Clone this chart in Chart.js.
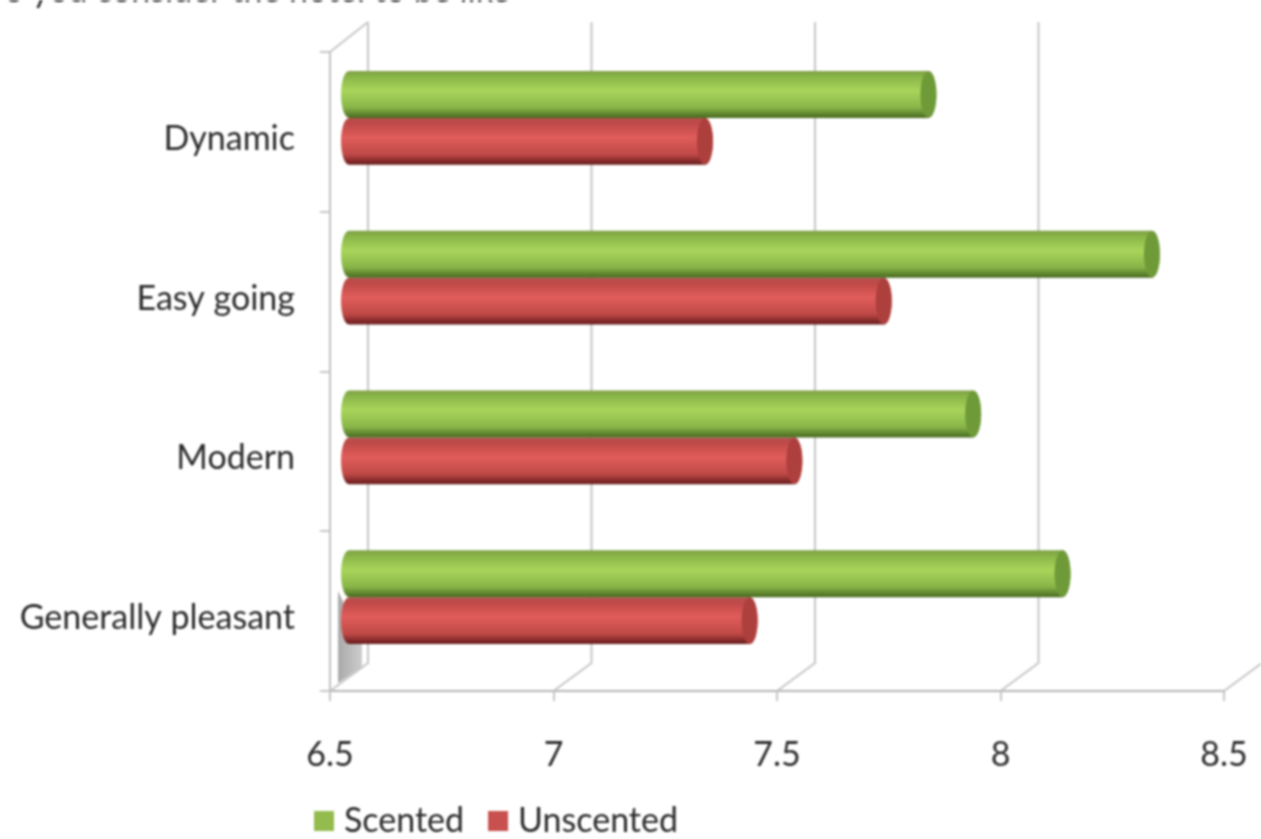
<!DOCTYPE html>
<html>
<head>
<meta charset="utf-8">
<title>Scented vs unscented</title>
<script src="https://cdn.jsdelivr.net/npm/chart.js@4"></script>
<style>
  html, body { margin: 0; padding: 0; background: #fff; overflow: hidden; }
  #wrap { width: 1261px; height: 839px; position: relative; }
  #chart { filter: blur(0.9px); }
</style>
</head>
<body>
<div id="wrap"><canvas id="chart"></canvas></div>
<script>
const categories = ["Dynamic", "Easy going", "Modern", "Generally pleasant"];
const scented = [7.85, 8.35, 7.95, 8.15];
const unscented = [7.35, 7.75, 7.55, 7.45];
const seriesNames = ["Scented", "Unscented"];
const xTicks = [6.5, 7, 7.5, 8, 8.5];
const titleText = "Do you consider the hotel to be like";

const fontName = "Lato, 'Open Sans', sans-serif";
const fontSize = 34;
const textColor = "#2b2b2b";
const gridColor = "#c6c6c6";

// 3d look: the back wall sits up and to the right of the axes
const depthX = 38;
const depthY = -28;

const looks = [
  { edge: "#7f9f45", light: "#a9d55b", mid: "#88b548", dark: "#47691f", cap: "#6f9a38" },
  { edge: "#b5504e", light: "#e05d5b", mid: "#bf4947", dark: "#641a1a", cap: "#ad3f3d" }
];

function drawCylinder(ctx, left, right, top, bottom, look) {
  const rx = 8;
  const cy = (top + bottom) / 2;
  const ry = (bottom - top) / 2;
  const g = ctx.createLinearGradient(0, top, 0, bottom);
  g.addColorStop(0, look.edge);
  g.addColorStop(0.12, look.mid);
  g.addColorStop(0.42, look.light);
  g.addColorStop(0.78, look.mid);
  g.addColorStop(1, look.dark);
  ctx.fillStyle = g;
  ctx.beginPath();
  ctx.ellipse(left + rx, cy, rx, ry, 0, Math.PI / 2, Math.PI * 1.5);
  ctx.lineTo(right - rx, top);
  ctx.ellipse(right - rx, cy, rx, ry, 0, -Math.PI / 2, Math.PI / 2);
  ctx.closePath();
  ctx.fill();
  ctx.fillStyle = look.cap;
  ctx.beginPath();
  ctx.ellipse(right - rx, cy, rx, ry, 0, 0, Math.PI * 2);
  ctx.fill();
}

const backWall = {
  id: "backWall",
  afterLayout(chart) {
    // legend sits under the axis, not centred
    const lg = chart.legend;
    const pad = lg.options.labels.padding;
    lg.left = 321 - pad;
    lg.top = 804 - pad;
    // tick labels get clipped to the scale box, so let it run down
    chart.scales.x.bottom = chart.height;
  },
  beforeDatasetsDraw(chart) {
    const { ctx, scales } = chart;
    const bottom = scales.y.bottom;
    const top = scales.y.top;
    ctx.save();

    // grey side of the first bar group
    const sx = scales.x.getPixelForValue(xTicks[0]);
    const wedge = ctx.createLinearGradient(sx + 8, 0, sx + 32, 0);
    wedge.addColorStop(0, "#a9a9a9");
    wedge.addColorStop(1, "#cdcdcd");
    ctx.fillStyle = wedge;
    ctx.beginPath();
    ctx.moveTo(sx + 8, bottom - 100);
    ctx.lineTo(sx + 8, bottom - 8);
    ctx.lineTo(sx + 32, bottom - 24);
    ctx.lineTo(sx + 32, bottom - 50);
    ctx.closePath();
    ctx.fill();

    ctx.strokeStyle = gridColor;
    ctx.lineWidth = 2;
    xTicks.forEach(v => {
      const x = scales.x.getPixelForValue(v);
      ctx.beginPath();
      ctx.moveTo(x, bottom);
      ctx.lineTo(x + depthX, bottom + depthY);
      ctx.lineTo(x + depthX, top + depthY - 2);
      ctx.stroke();
    });
    // top edge of the side wall
    ctx.beginPath();
    ctx.moveTo(sx, top);
    ctx.lineTo(sx + depthX, top + depthY - 2);
    ctx.stroke();
    ctx.restore();
  },
  beforeDatasetDraw(chart, args) {
    const ctx = chart.ctx;
    const look = looks[args.index];
    const start = chart.scales.x.getPixelForValue(xTicks[0]);
    args.meta.data.forEach(bar => {
      const p = bar.getProps(["x", "y", "height"], true);
      const top = p.y - p.height / 2 - 14;
      drawCylinder(ctx, start + 11, p.x + 3, top, top + p.height, look);
    });
    return false;
  },
  afterDraw(chart) {
    const ctx = chart.ctx;
    ctx.save();
    ctx.font = fontSize + "px " + fontName;
    ctx.fillStyle = textColor;
    ctx.textAlign = "right";
    ctx.textBaseline = "alphabetic";
    ctx.fillText(titleText, 510, 2);
    ctx.restore();
  }
};

new Chart(document.getElementById("chart"), {
  type: "bar",
  data: {
    labels: categories,
    datasets: [
      { label: seriesNames[0], data: scented, backgroundColor: "#94bb4e", borderWidth: 0, categoryPercentage: 0.5875, barPercentage: 1 },
      { label: seriesNames[1], data: unscented, backgroundColor: "#c8504e", borderWidth: 0, categoryPercentage: 0.5875, barPercentage: 1 }
    ]
  },
  options: {
    indexAxis: "y",
    responsive: true,
    maintainAspectRatio: false,
    animation: false,
    layout: { padding: { top: 52, right: 37, left: 0, bottom: 0 } },
    scales: {
      x: {
        type: "linear",
        min: 6.5,
        max: 8.5,
        afterBuildTicks(scale) { scale.ticks = xTicks.map(v => ({ value: v })); },
        afterFit(scale) {
          scale.height = 148 - scale.chart.legend.height;
          scale.paddingRight = 0;
          scale.paddingLeft = 0;
        },
        grid: { drawOnChartArea: false, tickLength: 10, color: gridColor, lineWidth: 2 },
        border: { color: "#b5b5b5", width: 2 },
        ticks: {
          padding: 34,
          maxRotation: 0,
          autoSkip: false,
          color: textColor,
          font: { family: fontName, size: fontSize },
          callback: v => String(v)
        }
      },
      y: {
        afterFit(scale) { scale.width = 330; },
        grid: { drawOnChartArea: false, tickLength: 10, color: gridColor, lineWidth: 2, offset: true },
        border: { color: "#c0c0c0", width: 2 },
        ticks: {
          padding: 25,
          labelOffset: 7,
          color: textColor,
          font: { family: fontName, size: fontSize }
        }
      }
    },
    plugins: {
      tooltip: { enabled: false },
      legend: {
        position: "bottom",
        align: "start",
        labels: {
          usePointStyle: true,
          pointStyle: "rect",
          boxWidth: 6,
          boxHeight: 20,
          padding: 31,
          color: textColor,
          font: { family: fontName, size: fontSize }
        }
      }
    }
  },
  plugins: [backWall]
});
</script>
</body>
</html>
